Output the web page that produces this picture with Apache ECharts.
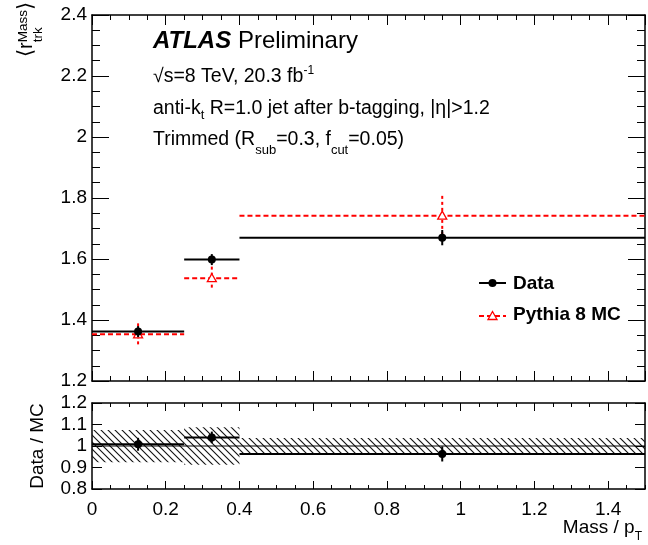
<!DOCTYPE html>
<html>
<head>
<meta charset="utf-8">
<script src="https://cdn.jsdelivr.net/npm/echarts@6/dist/echarts.min.js"></script>
<style>html,body{margin:0;padding:0;background:#fff}#c{width:648px;height:545px}</style>
</head>
<body>
<div id="c"></div>
<script>
// ---- data ----
const binLo = [0, 0.25, 0.4];
const binHi = [0.25, 0.4, 1.5];
const binX = [0.125, 0.325, 0.95];
const dataVal = [1.362, 1.598, 1.670];
const dataErr = [0.018, 0.018, 0.025];
const mcVal = [1.353, 1.537, 1.742];
const mcErr = [0.036, 0.038, 0.065];
const ratioVal = [1.008, 1.040, 0.963];
const ratioErr = [0.030, 0.027, 0.035];
const bandCenter = [1.0, 1.0, 1.0];
const bandErr = [0.075, 0.087, 0.037];
const ratioRef = [[0, 1.0], [1.5, 1.0]];
const seriesNames = ['Data', 'Pythia 8 MC'];

const FONT = '"Liberation Sans", Arial, Helvetica, sans-serif';
const mctx = document.createElement('canvas').getContext('2d');
function fontStr(f, w, it) { return (it ? 'italic ' : '') + (w || 'normal') + ' ' + f + 'px ' + FONT; }
function tw(t, f, w, it) { mctx.font = fontStr(f, w, it); return mctx.measureText(t).width; }
// parts: {t, f, w, it, dy, same (reuse previous x start), after (start after widest)}
function textRun(parts, color) {
  let x = 0, kids = [], prevStart = 0, maxEnd = 0;
  parts.forEach(p => {
    let sx = p.same ? prevStart : x;
    if (p.after) sx = maxEnd;
    const w = tw(p.t, p.f, p.w, p.it);
    kids.push({ type: 'text', x: sx, y: (p.dy || 0) - 0.347 * p.f,
      style: { text: p.t, font: fontStr(p.f, p.w, p.it), fill: color || '#000', verticalAlign: 'middle', align: 'left' } });
    prevStart = sx; x = sx + w; maxEnd = Math.max(maxEnd, x);
  });
  return kids;
}
function group(x, y, kids, rot) { return { type: 'group', x, y, rotation: rot || 0, children: kids, silent: true }; }

// hatch pattern
const pc = document.createElement('canvas'); pc.width = 7; pc.height = 7;
(function () { const g = pc.getContext('2d'); g.strokeStyle = '#111'; g.lineWidth = 1.1;
  g.beginPath(); g.moveTo(-1, -1); g.lineTo(8, 8); g.moveTo(6, -1); g.lineTo(8, 1); g.moveTo(-1, 6); g.lineTo(1, 8); g.stroke(); })();

const chart = echarts.init(document.getElementById('c'), null, { renderer: 'canvas' });
const axLine = { color: '#000', width: 1.5 };
function mkX(gi, pos, interval, len, labels, line) {
  return { type: 'value', gridIndex: gi, position: pos, min: 0, max: 1.5, interval,
    axisLine: { show: line, onZero: false, lineStyle: axLine },
    axisTick: { show: true, inside: true, length: len, lineStyle: { color: '#000', width: 1 } },
    axisLabel: { show: labels, color: '#000', fontFamily: FONT, fontSize: 19, margin: 11, showMaxLabel: false },
    splitLine: { show: false }, minorTick: { show: false } };
}
function mkY(gi, pos, min, max, interval, len, labels, line) {
  return { type: 'value', gridIndex: gi, position: pos, min, max, interval,
    axisLine: { show: line, onZero: false, lineStyle: axLine },
    axisTick: { show: true, inside: true, length: len, lineStyle: { color: '#000', width: 1 } },
    axisLabel: { show: labels, color: '#000', fontFamily: FONT, fontSize: 19, margin: 5 },
    splitLine: { show: false } };
}

function stepItems(vals, errs) { return vals.map((v, i) => [binLo[i], binHi[i], binX[i], v, errs[i]]); }
function stepRender(kind) {
  return function (params, api) {
    const lo = api.value(0), hi = api.value(1), x = api.value(2), v = api.value(3), e = api.value(4);
    const a = api.coord([lo, v]), b = api.coord([hi, v]), c = api.coord([x, v]);
    const t = api.coord([x, v + e]), d = api.coord([x, v - e]);
    const kids = [];
    if (kind === 'mc') {
      kids.push({ type: 'line', shape: { x1: a[0], y1: a[1], x2: b[0], y2: b[1] }, style: { stroke: '#ff0000', lineWidth: 2, lineDash: [5, 3] } });
      kids.push({ type: 'line', shape: { x1: t[0], y1: t[1], x2: d[0], y2: d[1] }, style: { stroke: '#ff0000', lineWidth: 2, lineDash: [3, 3] } });
      kids.push({ type: 'polygon', shape: { points: [[c[0], c[1] - 4.5], [c[0] - 4.5, c[1] + 3.5], [c[0] + 4.5, c[1] + 3.5]] }, style: { fill: '#fff', stroke: '#ff0000', lineWidth: 1.3 } });
    } else {
      kids.push({ type: 'line', shape: { x1: a[0], y1: a[1], x2: b[0], y2: b[1] }, style: { stroke: '#000', lineWidth: 2 } });
      kids.push({ type: 'line', shape: { x1: t[0], y1: t[1], x2: d[0], y2: d[1] }, style: { stroke: '#000', lineWidth: 2 } });
      kids.push({ type: 'circle', shape: { cx: c[0], cy: c[1], r: 4 }, style: { fill: '#000' } });
    }
    return { type: 'group', children: kids };
  };
}
function bandRender(params, api) {
  const lo = api.value(0), hi = api.value(1), c = api.value(2), e = api.value(3);
  const p1 = api.coord([lo, c + e]), p2 = api.coord([hi, c - e]);
  return { type: 'rect', shape: { x: p1[0], y: p1[1], width: p2[0] - p1[0], height: p2[1] - p1[1] },
    style: { fill: { image: pc, repeat: 'repeat' } } };
}

// texts
const graphics = [];
graphics.push(group(153, 50, textRun([{ t: 'ATLAS', f: 24, w: 'bold', it: true }, { t: ' Preliminary', f: 24 }])));
graphics.push(group(153, 83, textRun([{ t: '\u221As=8 TeV, 20.3 fb', f: 19.5 }, { t: '-1', f: 12, dy: -8 }])));
graphics.push(group(153, 115, textRun([{ t: 'anti-k', f: 19.5 }, { t: 't', f: 13, dy: 5 }, { t: ' R=1.0 jet after b-tagging, |\u03B7|>1.2', f: 19.5 }])));
graphics.push(group(153, 146, textRun([{ t: 'Trimmed (R', f: 19.5 }, { t: 'sub', f: 13, dy: 9 }, { t: '=0.3, f', f: 19.5 }, { t: 'cut', f: 13, dy: 9 }, { t: '=0.05)', f: 19.5 }])));
// y title top (rotated)
graphics.push(group(33, 57, textRun([{ t: '\u27E8', f: 21 }, { t: 'r', f: 20 }, { t: 'Mass', f: 13.5, dy: -5 }, { t: 'trk', f: 13.5, dy: 10, same: true }, { t: '\u27E9', f: 21, after: true }]), Math.PI / 2));
// y title bottom
graphics.push(group(44, 446, [{ type: 'text', x: 0, y: -0.347 * 19, style: { text: 'Data / MC', font: fontStr(19), fill: '#000', verticalAlign: 'middle', align: 'center' } }], Math.PI / 2));
// x title
(function () {
  const w = tw('Mass / p', 19) + tw('T', 12);
  graphics.push(group(642 - w, 534, textRun([{ t: 'Mass / p', f: 19 }, { t: 'T', f: 12, dy: 7 }])));
})();
// legend
graphics.push({ type: 'line', shape: { x1: 479, y1: 283, x2: 506, y2: 283 }, style: { stroke: '#000', lineWidth: 2 }, silent: true });
graphics.push({ type: 'circle', shape: { cx: 492.5, cy: 283, r: 4 }, style: { fill: '#000' }, silent: true });
graphics.push(group(513, 290, textRun([{ t: seriesNames[0], f: 19, w: 'bold' }])));
graphics.push({ type: 'line', shape: { x1: 479, y1: 316, x2: 506, y2: 316 }, style: { stroke: '#ff0000', lineWidth: 2, lineDash: [5, 3] }, silent: true });
graphics.push({ type: 'polygon', shape: { points: [[492.5, 311.5], [488, 319.5], [497, 319.5]] }, style: { fill: '#fff', stroke: '#ff0000', lineWidth: 1.3 }, silent: true });
graphics.push(group(513, 321, textRun([{ t: seriesNames[1], f: 19, w: 'bold' }])));

const option = {
  animation: false,
  backgroundColor: '#fff',
  grid: [
    { left: 92, top: 15, width: 553, height: 366, containLabel: false },
    { left: 92, top: 403, width: 553, height: 86, containLabel: false }
  ],
  xAxis: [
    mkX(0, 'bottom', 0.2, 10, false, true),
    mkX(0, 'top', 0.2, 10, false, true),
    mkX(0, 'bottom', 0.05, 5, false, false),
    mkX(0, 'top', 0.05, 5, false, false),
    mkX(1, 'bottom', 0.2, 8, true, true),
    mkX(1, 'top', 0.2, 8, false, true),
    mkX(1, 'bottom', 0.05, 4, false, false),
    mkX(1, 'top', 0.05, 4, false, false)
  ],
  yAxis: [
    mkY(0, 'left', 1.2, 2.4, 0.2, 17, true, true),
    mkY(0, 'right', 1.2, 2.4, 0.2, 17, false, true),
    mkY(0, 'right', 1.2, 2.4, 0.05, 8, false, false),
    mkY(0, 'left', 1.2, 2.4, 0.05, 8, false, false),
    mkY(1, 'left', 0.8, 1.2, 0.1, 10, true, true),
    mkY(1, 'right', 0.8, 1.2, 0.1, 10, false, true)
  ],
  series: [
    { type: 'custom', name: seriesNames[1], xAxisIndex: 0, yAxisIndex: 0, renderItem: stepRender('mc'), data: stepItems(mcVal, mcErr), z: 2 },
    { type: 'custom', name: seriesNames[0], xAxisIndex: 0, yAxisIndex: 0, renderItem: stepRender('data'), data: stepItems(dataVal, dataErr), z: 3 },
    { type: 'custom', name: 'band', xAxisIndex: 4, yAxisIndex: 4, renderItem: bandRender, data: bandCenter.map((c, i) => [binLo[i], binHi[i], c, bandErr[i]]), z: 1 },
    { type: 'line', name: 'ref', xAxisIndex: 4, yAxisIndex: 4, data: ratioRef, symbol: 'none', lineStyle: { color: '#000', width: 1.2 }, z: 2 },
    { type: 'custom', name: 'ratio', xAxisIndex: 4, yAxisIndex: 4, renderItem: stepRender('data'), data: stepItems(ratioVal, ratioErr), z: 3 }
  ],
  graphic: graphics
};
chart.setOption(option);
</script>
</body>
</html>
